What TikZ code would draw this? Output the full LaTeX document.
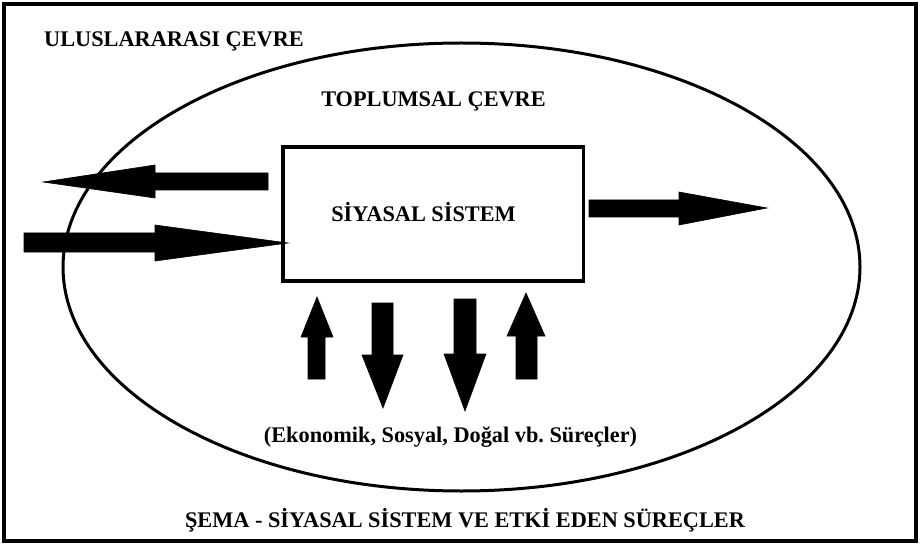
\documentclass[tikz,border=0pt]{standalone}
\usepackage{fontspec}
\setmainfont{Liberation Serif}
\frenchspacing
\begin{document}
\begin{tikzpicture}[x=1pt,y=-1pt,
  lbl/.style={font=\bfseries\fontsize{22.3}{25}\selectfont, inner sep=0pt, anchor=base},
  blockarrow/.style={fill=black, draw=black, line width=0.6pt, line join=miter},
  frame/.style={draw=black, line width=3.5pt},
  ring/.style={draw=black, line width=3pt}]
\useasboundingbox (0,0) rectangle (920,545);
% outer frame
\draw[frame] (4,4) rectangle (916,541);
% society ellipse
\draw[ring] (461.5,267) ellipse [x radius=398.5, y radius=224];
% political system box
\node[frame, minimum width=300.5pt, minimum height=134pt, inner sep=0pt] (box) at (433.25,214) {};
% labels
\node[lbl] (intl) at (174,47) {ULUSLARARASI ÇEVRE};
\node[lbl] (soc) at (433.5,107) {TOPLUMSAL ÇEVRE};
\node[lbl] (sys) at (423.5,222) {SİYASAL SİSTEM};
\node[lbl] (proc) at (450.5,442) {(Ekonomik, Sosyal, Doğal vb.\ Süreçler)};
\node[lbl] (title) at (465,527) {ŞEMA - SİYASAL SİSTEM VE ETKİ EDEN SÜREÇLER};
% left: output arrow (pointing left)
\fill[blockarrow] (268,173) -- (155,173) -- (155,165) -- (43,182) -- (155,198) -- (155,190) -- (268,190) -- cycle;
% left: input arrow (pointing right)
\fill[blockarrow] (24,233) -- (155,233) -- (155,225) -- (288,243) -- (155,261) -- (155,252) -- (24,252) -- cycle;
% right: output arrow
\fill[blockarrow] (589,200) -- (679,200) -- (679,192) -- (767,208) -- (679,225) -- (679,217) -- (589,217) -- cycle;
% bottom arrows
\fill[blockarrow] (308,379) -- (308,337) -- (301,337) -- (317,297) -- (333,337) -- (325,337) -- (325,379) -- cycle;
\fill[blockarrow] (372,303) -- (393,303) -- (393,355) -- (403,355) -- (383,408) -- (362,355) -- (372,355) -- cycle;
\fill[blockarrow] (454,299) -- (476,299) -- (476,354) -- (486,354) -- (465,411) -- (444,354) -- (454,354) -- cycle;
\fill[blockarrow] (516,379) -- (516,336) -- (507,336) -- (526,293) -- (545,336) -- (537,336) -- (537,379) -- cycle;
\end{tikzpicture}
\end{document}
